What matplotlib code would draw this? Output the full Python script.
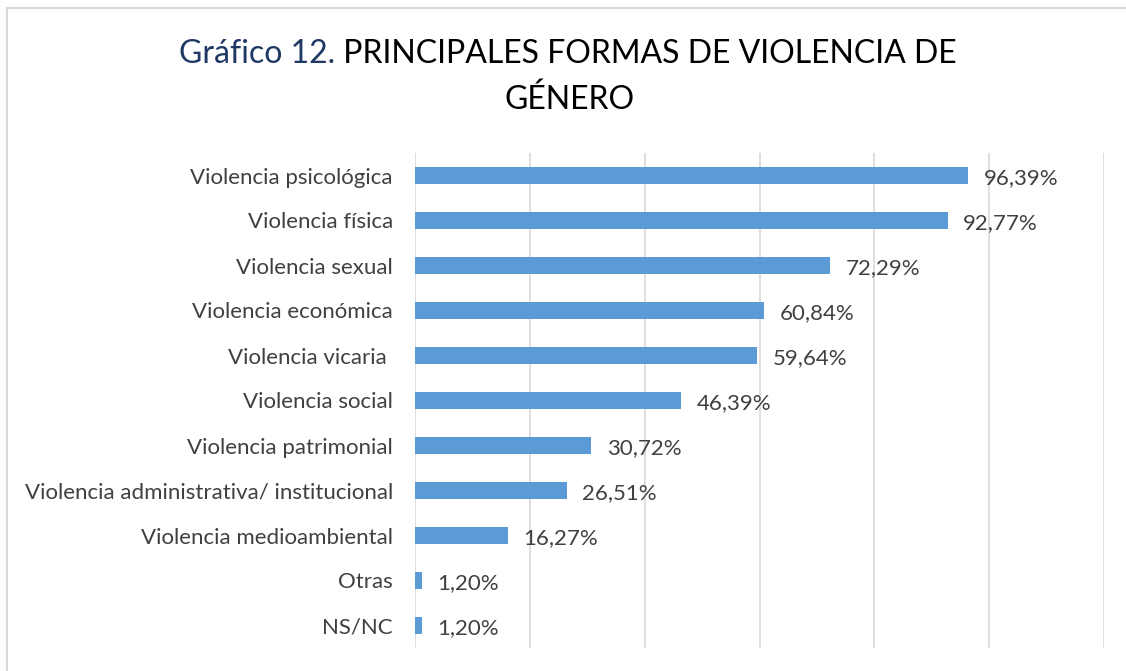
import matplotlib.pyplot as plt
from matplotlib.patches import Rectangle

plt.rcParams['font.family'] = ['Lato', 'DejaVu Sans']

categorias = ['Violencia psicológica', 'Violencia física', 'Violencia sexual',
              'Violencia económica', 'Violencia vicaria ', 'Violencia social',
              'Violencia patrimonial', 'Violencia administrativa/ institucional',
              'Violencia medioambiental', 'Otras', 'NS/NC']
valores = [96.39, 92.77, 72.29, 60.84, 59.64, 46.39, 30.72, 26.51, 16.27, 1.20, 1.20]
etiquetas = ['96,39%', '92,77%', '72,29%', '60,84%', '59,64%', '46,39%',
             '30,72%', '26,51%', '16,27%', '1,20%', '1,20%']

fig = plt.figure(figsize=(11.26, 6.71), dpi=100)
# marco gris del grafico
fig.patches.append(Rectangle((7 / 1126, -0.05), 1.2, (671 - 8) / 671 + 0.05,
                             transform=fig.transFigure, fill=False,
                             edgecolor='#D9D9D9', linewidth=1.5))

ax = fig.add_axes([415 / 1126, 23 / 671, 689 / 1126, 495 / 671])
pos = list(range(len(categorias)))
ax.barh(pos, valores, height=0.36, color='#5B9BD5', zorder=3)
ax.set_xlim(0, 120)
ax.set_ylim(len(categorias) - 0.5, -0.5)
ax.set_xticks(range(0, 121, 20))
ax.xaxis.grid(True, color='#D9D9D9', linewidth=1.2)
ax.tick_params(axis='x', length=0, labelbottom=False)
ax.tick_params(axis='y', length=0, pad=16, labelsize=16, labelcolor='#404040')
ax.set_yticks(pos)
ax.set_yticklabels(categorias)
for s in ax.spines.values():
    s.set_visible(False)

for i, v in enumerate(valores):
    ax.annotate(etiquetas[i], (v, i), xytext=(11, -2), textcoords='offset points',
                ha='left', va='center', fontsize=16, color='#404040')

# titulo en dos colores
t1 = fig.text(0, 0.919, 'Gráfico 12.', fontsize=23, color='#1F3864', va='center')
t2 = fig.text(0, 0.919, ' PRINCIPALES FORMAS DE VIOLENCIA DE', fontsize=23,
              color='black', va='center')
fig.canvas.draw()
r = fig.canvas.get_renderer()
w1 = t1.get_window_extent(r).width / 1126
w2 = t2.get_window_extent(r).width / 1126
x0 = 568 / 1126 - (w1 + w2) / 2
t1.set_x(x0)
t2.set_x(x0 + w1)
fig.text(570 / 1126, 0.851, 'GÉNERO', fontsize=23, color='black', ha='center', va='center')

fig.savefig('out.png', dpi=100)
